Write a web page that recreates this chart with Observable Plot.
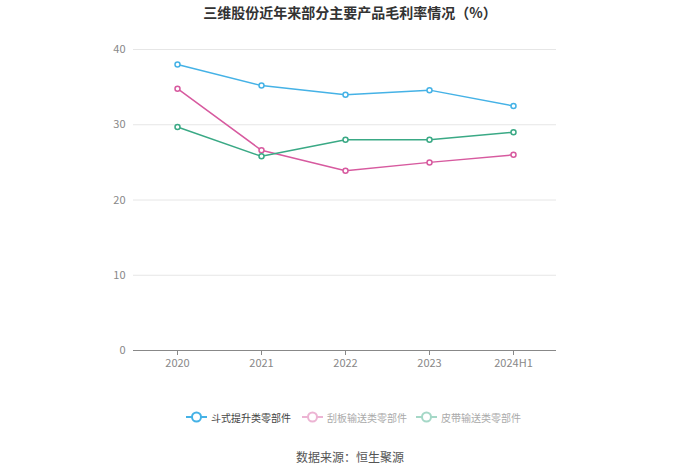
<!DOCTYPE html>
<html><head><meta charset="utf-8">
<script src="https://cdn.jsdelivr.net/npm/d3@7"></script>
<script src="https://cdn.jsdelivr.net/npm/@observablehq/plot@0.6"></script>
<style>
body{margin:0;background:#fff;font-family:"Noto Sans CJK SC","Noto Sans",sans-serif;}
#wrap{position:relative;width:700px;height:474px;}
#title{position:absolute;top:2px;left:0;width:700px;text-align:center;font-size:14px;font-weight:bold;color:#333;}
#chart{position:absolute;top:0;left:0;}
#legend{position:absolute;top:408px;left:0;width:700px;height:20px;}
#source{position:absolute;top:448px;left:0;width:700px;text-align:center;font-size:12px;color:#555;}
.li{position:absolute;top:0;display:flex;align-items:center;font-size:10px;height:18px;}
</style></head>
<body><div id="wrap">
<div id="chart"></div>
<div id="title">三维股份近年来部分主要产品毛利率情况（%）</div>
<div id="legend"></div>
<div id="source">数据来源：恒生聚源</div>
</div>
<script>
const years = ["2020","2021","2022","2023","2024H1"];
const seriesNames = ["斗式提升类零部件","刮板输送类零部件","皮带输送类零部件"];
const douShi = [38.0, 35.2, 34.0, 34.6, 32.5];
const guaBan = [34.8, 26.6, 23.9, 25.0, 26.0];
const piDai = [29.7, 25.8, 28.0, 28.0, 29.0];
const colors = ["#45b2e6","#d75a9f","#3aa985"];
const yTicks = [0,10,20,30,40];

const data = [];
[douShi, guaBan, piDai].forEach((arr, i) => arr.forEach((v, j) => data.push({year: years[j], value: v, series: seriesNames[i]})));

const plot = Plot.plot({
  width: 700, height: 380,
  marginTop: 49, marginBottom: 30, marginLeft: 133, marginRight: 144,
  style: {fontFamily: '"Noto Sans CJK SC","Noto Sans",sans-serif', fontSize: "11px", color: "#666", background: "transparent"},
  x: {type: "point", domain: years, padding: 0.5, label: null},
  y: {domain: [0, 40], ticks: yTicks, label: null},
  color: {domain: seriesNames, range: colors},
  marks: [
    Plot.gridY(yTicks.filter(d => d > 0), {stroke: "#e6e6e6", strokeOpacity: 1}),
    Plot.ruleY([0], {stroke: "#888"}),
    Plot.axisY({ticks: yTicks, tickSize: 0, tickPadding: 8, fill: "#888", fontSize: 11}),
    Plot.axisX({tickSize: 5, stroke: "#888", tickPadding: 4, fill: "#888", fontSize: 11}),
    Plot.line(data, {x: "year", y: "value", stroke: "series", strokeWidth: 1.5}),
    Plot.dot(data, {x: "year", y: "value", stroke: "series", fill: "white", r: 2.5, strokeWidth: 1.5})
  ]
});
document.getElementById("chart").appendChild(plot);

const legend = document.getElementById("legend");
const lx = [186, 302, 416];
const textColors = ["#444", "#aaa", "#aaa"];
const iconOpacity = [1, 0.45, 0.45];
seriesNames.forEach((n, i) => {
  const d = document.createElement("div");
  d.className = "li";
  d.style.left = lx[i] + "px";
  d.innerHTML = `<svg width="21" height="14" style="opacity:${iconOpacity[i]}"><line x1="0" y1="7" x2="21" y2="7" stroke="${colors[i]}" stroke-width="2"/><circle cx="10.5" cy="7" r="4.5" fill="white" stroke="${colors[i]}" stroke-width="2"/></svg><span style="margin-left:4px;color:${textColors[i]}">${n}</span>`;
  legend.appendChild(d);
});
</script>
</body></html>
